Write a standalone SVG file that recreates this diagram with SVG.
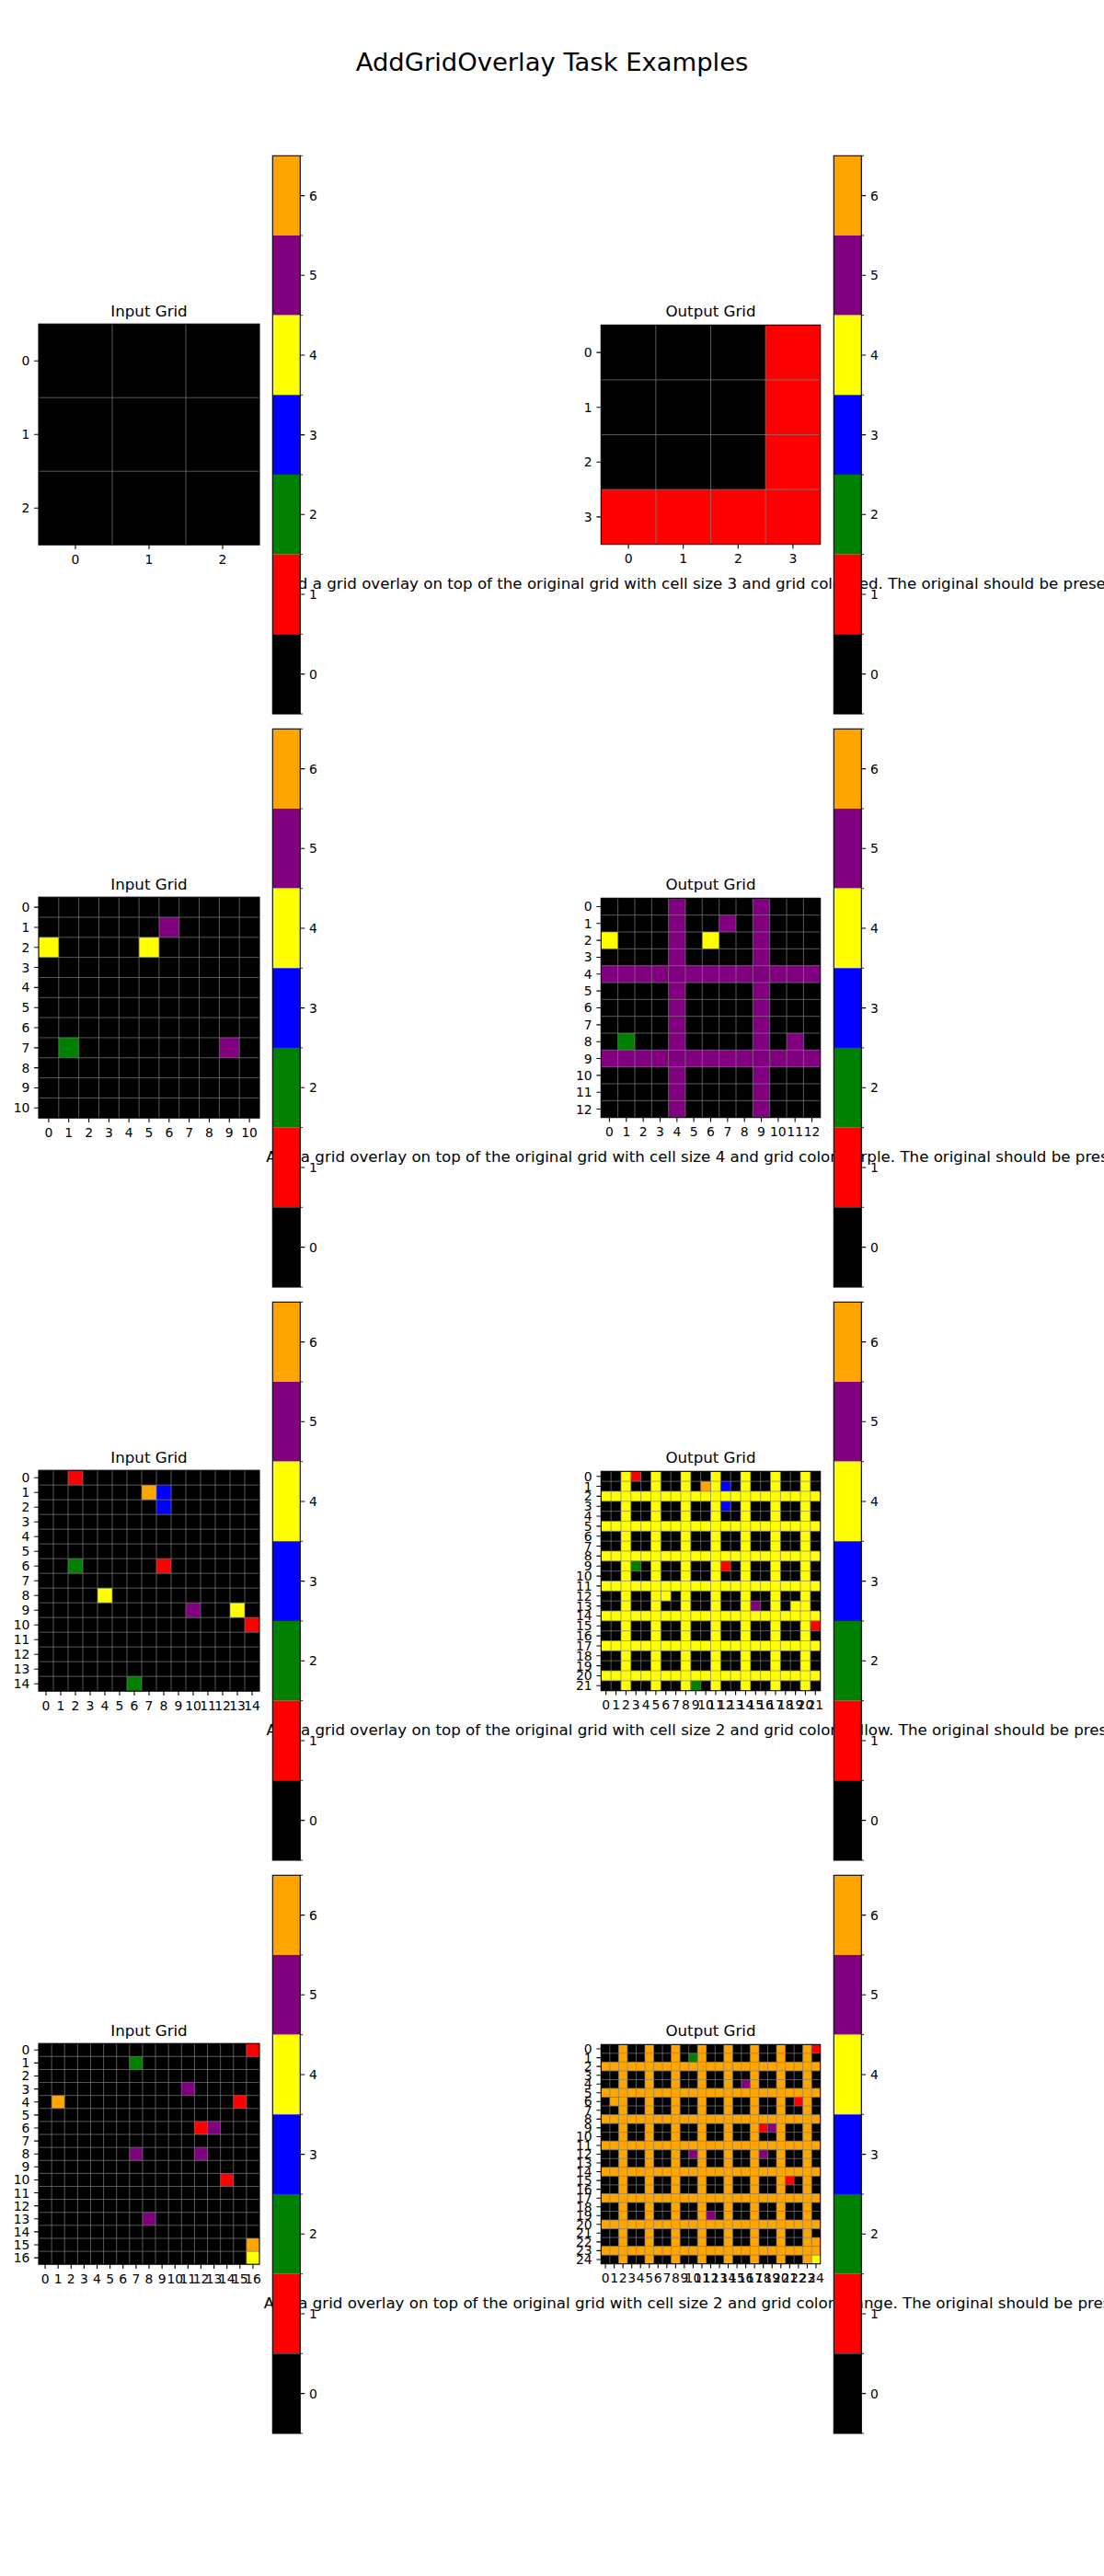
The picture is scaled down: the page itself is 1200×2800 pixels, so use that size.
<svg xmlns="http://www.w3.org/2000/svg" width="1200" height="2800" viewBox="0 0 1200 2800">
<style>
text{font-family:"DejaVu Sans","Liberation Sans",sans-serif;fill:#000}
.tl{font-size:13.9px}
.yl{text-anchor:end}
.xl{text-anchor:middle}
.at{font-size:16.67px;text-anchor:middle}
.desc{font-size:16.67px}
.sup{font-size:27.4px;text-anchor:middle}
.gl{fill:none;stroke:#808080;stroke-width:0.7;vector-effect:non-scaling-stroke}
.sp{fill:none;stroke:#000;stroke-width:1.1}
.tk{fill:none;stroke:#000;stroke-width:1.1}
.mt{fill:none;stroke:#000;stroke-width:0.8}
.k{fill:#000}.r{fill:#f00}.g{fill:#008000}.b{fill:#00f}.y{fill:#ff0}.p{fill:#800080}.o{fill:#ffa500}
</style>
<rect width="1200" height="2800" fill="#fff"/>
<text class="sup" x="600" y="77">AddGridOverlay Task Examples</text>

<g id="descriptions">
<text class="desc" x="302.2" y="639.5">Add a grid overlay on top of the original grid with cell size 3 and grid color red. The original should be prese</text>
<text class="desc" x="289.3" y="1262.5">Add a grid overlay on top of the original grid with cell size 4 and grid color purple. The original should be pres</text>
<text class="desc" x="289.4" y="1885.5">Add a grid overlay on top of the original grid with cell size 2 and grid color yellow. The original should be prese</text>
<text class="desc" x="286.7" y="2508.5">Add a grid overlay on top of the original grid with cell size 2 and grid color orange. The original should be pres</text>
</g>

<!-- ROW 1 -->
<g id="r1-input">
<text class="at" x="162" y="344">Input Grid</text>
<g transform="translate(42,352.2)">
<g transform="scale(80)">
<rect width="3" height="3" class="k"/>
<path class="gl" d="M1 0V3M2 0V3M0 1H3M0 2H3"/>
</g>
<rect class="sp" width="240" height="240"/>
<path class="tk" d="M-4.9 40h4.9M-4.9 120h4.9M-4.9 200h4.9M40 240v4.9M120 240v4.9M200 240v4.9"/>
<text class="tl yl" x="-9.7" y="45">0</text><text class="tl yl" x="-9.7" y="125">1</text><text class="tl yl" x="-9.7" y="205">2</text>
<text class="tl xl" x="40" y="260.6">0</text><text class="tl xl" x="120" y="260.6">1</text><text class="tl xl" x="200" y="260.6">2</text>
</g>
</g>
<g id="r1-output">
<text class="at" x="772.5" y="344">Output Grid</text>
<g transform="translate(653.3,353.3)">
<g transform="scale(59.6)">
<rect width="4" height="4" class="k"/>
<rect x="3" width="1" height="4" class="r"/>
<rect y="3" width="4" height="1" class="r"/>
<path class="gl" d="M1 0V4M2 0V4M3 0V4M0 1H4M0 2H4M0 3H4"/>
</g>
<rect class="sp" width="238.4" height="238.4"/>
<path class="tk" d="M-4.9 29.8h4.9M-4.9 89.4h4.9M-4.9 149h4.9M-4.9 208.6h4.9M29.8 238.4v4.9M89.4 238.4v4.9M149 238.4v4.9M208.6 238.4v4.9"/>
<text class="tl yl" x="-9.7" y="34.8">0</text><text class="tl yl" x="-9.7" y="94.4">1</text><text class="tl yl" x="-9.7" y="154">2</text><text class="tl yl" x="-9.7" y="213.6">3</text>
<text class="tl xl" x="29.8" y="259">0</text><text class="tl xl" x="89.4" y="259">1</text><text class="tl xl" x="149" y="259">2</text><text class="tl xl" x="208.6" y="259">3</text>
</g>
</g>

<!-- ROW 2 -->
<g id="r2-input">
<text class="at" x="162" y="967">Input Grid</text>
<g transform="translate(42,975.2)">
<g transform="scale(21.818)">
<rect width="11" height="11" class="k"/>
<rect x="6" y="1" width="1" height="1" class="p"/>
<rect x="0" y="2" width="1" height="1" class="y"/>
<rect x="5" y="2" width="1" height="1" class="y"/>
<rect x="1" y="7" width="1" height="1" class="g"/>
<rect x="9" y="7" width="1" height="1" class="p"/>
<path class="gl" d="M1 0V11M2 0V11M3 0V11M4 0V11M5 0V11M6 0V11M7 0V11M8 0V11M9 0V11M10 0V11M0 1H11M0 2H11M0 3H11M0 4H11M0 5H11M0 6H11M0 7H11M0 8H11M0 9H11M0 10H11"/>
</g>
<rect class="sp" width="240" height="240"/>
<path class="tk" d="M-4.9 10.91h4.9M-4.9 32.73h4.9M-4.9 54.55h4.9M-4.9 76.36h4.9M-4.9 98.18h4.9M-4.9 120h4.9M-4.9 141.82h4.9M-4.9 163.64h4.9M-4.9 185.45h4.9M-4.9 207.27h4.9M-4.9 229.09h4.9M10.91 240v4.9M32.73 240v4.9M54.55 240v4.9M76.36 240v4.9M98.18 240v4.9M120 240v4.9M141.82 240v4.9M163.64 240v4.9M185.45 240v4.9M207.27 240v4.9M229.09 240v4.9"/>
<text class="tl yl" x="-9.7" y="15.91">0</text><text class="tl yl" x="-9.7" y="37.73">1</text><text class="tl yl" x="-9.7" y="59.55">2</text><text class="tl yl" x="-9.7" y="81.36">3</text><text class="tl yl" x="-9.7" y="103.18">4</text><text class="tl yl" x="-9.7" y="125">5</text><text class="tl yl" x="-9.7" y="146.82">6</text><text class="tl yl" x="-9.7" y="168.64">7</text><text class="tl yl" x="-9.7" y="190.45">8</text><text class="tl yl" x="-9.7" y="212.27">9</text><text class="tl yl" x="-9.7" y="234.09">10</text>
<text class="tl xl" x="10.91" y="260.6">0</text><text class="tl xl" x="32.73" y="260.6">1</text><text class="tl xl" x="54.55" y="260.6">2</text><text class="tl xl" x="76.36" y="260.6">3</text><text class="tl xl" x="98.18" y="260.6">4</text><text class="tl xl" x="120" y="260.6">5</text><text class="tl xl" x="141.82" y="260.6">6</text><text class="tl xl" x="163.64" y="260.6">7</text><text class="tl xl" x="185.45" y="260.6">8</text><text class="tl xl" x="207.27" y="260.6">9</text><text class="tl xl" x="229.09" y="260.6">10</text>
</g>
</g>
<g id="r2-output">
<text class="at" x="772.5" y="967">Output Grid</text>
<g transform="translate(653.3,976.3)">
<g transform="scale(18.338)">
<rect width="13" height="13" class="k"/>
<rect x="4" width="1" height="13" class="p"/>
<rect x="9" width="1" height="13" class="p"/>
<rect y="4" width="13" height="1" class="p"/>
<rect y="9" width="13" height="1" class="p"/>
<rect x="7" y="1" width="1" height="1" class="p"/>
<rect x="0" y="2" width="1" height="1" class="y"/>
<rect x="6" y="2" width="1" height="1" class="y"/>
<rect x="1" y="8" width="1" height="1" class="g"/>
<rect x="11" y="8" width="1" height="1" class="p"/>
<path class="gl" d="M1 0V13M2 0V13M3 0V13M4 0V13M5 0V13M6 0V13M7 0V13M8 0V13M9 0V13M10 0V13M11 0V13M12 0V13M0 1H13M0 2H13M0 3H13M0 4H13M0 5H13M0 6H13M0 7H13M0 8H13M0 9H13M0 10H13M0 11H13M0 12H13"/>
</g>
<rect class="sp" width="238.4" height="238.4"/>
<path class="tk" d="M-4.9 9.17h4.9M-4.9 27.51h4.9M-4.9 45.85h4.9M-4.9 64.19h4.9M-4.9 82.52h4.9M-4.9 100.86h4.9M-4.9 119.2h4.9M-4.9 137.54h4.9M-4.9 155.88h4.9M-4.9 174.22h4.9M-4.9 192.55h4.9M-4.9 210.89h4.9M-4.9 229.23h4.9M9.17 238.4v4.9M27.51 238.4v4.9M45.85 238.4v4.9M64.19 238.4v4.9M82.52 238.4v4.9M100.86 238.4v4.9M119.2 238.4v4.9M137.54 238.4v4.9M155.88 238.4v4.9M174.22 238.4v4.9M192.55 238.4v4.9M210.89 238.4v4.9M229.23 238.4v4.9"/>
<text class="tl yl" x="-9.7" y="14.17">0</text><text class="tl yl" x="-9.7" y="32.51">1</text><text class="tl yl" x="-9.7" y="50.85">2</text><text class="tl yl" x="-9.7" y="69.19">3</text><text class="tl yl" x="-9.7" y="87.52">4</text><text class="tl yl" x="-9.7" y="105.86">5</text><text class="tl yl" x="-9.7" y="124.2">6</text><text class="tl yl" x="-9.7" y="142.54">7</text><text class="tl yl" x="-9.7" y="160.88">8</text><text class="tl yl" x="-9.7" y="179.22">9</text><text class="tl yl" x="-9.7" y="197.55">10</text><text class="tl yl" x="-9.7" y="215.89">11</text><text class="tl yl" x="-9.7" y="234.23">12</text>
<text class="tl xl" x="9.17" y="259">0</text><text class="tl xl" x="27.51" y="259">1</text><text class="tl xl" x="45.85" y="259">2</text><text class="tl xl" x="64.19" y="259">3</text><text class="tl xl" x="82.52" y="259">4</text><text class="tl xl" x="100.86" y="259">5</text><text class="tl xl" x="119.2" y="259">6</text><text class="tl xl" x="137.54" y="259">7</text><text class="tl xl" x="155.88" y="259">8</text><text class="tl xl" x="174.22" y="259">9</text><text class="tl xl" x="192.55" y="259">10</text><text class="tl xl" x="210.89" y="259">11</text><text class="tl xl" x="229.23" y="259">12</text>
</g>
</g>

<!-- ROW 3 -->
<g id="r3-input">
<text class="at" x="162" y="1590">Input Grid</text>
<g transform="translate(42,1598.2)">
<g transform="scale(16)">
<rect width="15" height="15" class="k"/>
<rect x="2" y="0" width="1" height="1" class="r"/>
<rect x="7" y="1" width="1" height="1" class="o"/>
<rect x="8" y="1" width="1" height="1" class="b"/>
<rect x="8" y="2" width="1" height="1" class="b"/>
<rect x="2" y="6" width="1" height="1" class="g"/>
<rect x="8" y="6" width="1" height="1" class="r"/>
<rect x="4" y="8" width="1" height="1" class="y"/>
<rect x="10" y="9" width="1" height="1" class="p"/>
<rect x="13" y="9" width="1" height="1" class="y"/>
<rect x="14" y="10" width="1" height="1" class="r"/>
<rect x="6" y="14" width="1" height="1" class="g"/>
<path class="gl" d="M1 0V15M2 0V15M3 0V15M4 0V15M5 0V15M6 0V15M7 0V15M8 0V15M9 0V15M10 0V15M11 0V15M12 0V15M13 0V15M14 0V15M0 1H15M0 2H15M0 3H15M0 4H15M0 5H15M0 6H15M0 7H15M0 8H15M0 9H15M0 10H15M0 11H15M0 12H15M0 13H15M0 14H15"/>
</g>
<rect class="sp" width="240" height="240"/>
<path class="tk" d="M-4.9 8h4.9M-4.9 24h4.9M-4.9 40h4.9M-4.9 56h4.9M-4.9 72h4.9M-4.9 88h4.9M-4.9 104h4.9M-4.9 120h4.9M-4.9 136h4.9M-4.9 152h4.9M-4.9 168h4.9M-4.9 184h4.9M-4.9 200h4.9M-4.9 216h4.9M-4.9 232h4.9M8 240v4.9M24 240v4.9M40 240v4.9M56 240v4.9M72 240v4.9M88 240v4.9M104 240v4.9M120 240v4.9M136 240v4.9M152 240v4.9M168 240v4.9M184 240v4.9M200 240v4.9M216 240v4.9M232 240v4.9"/>
<text class="tl yl" x="-9.7" y="13">0</text><text class="tl yl" x="-9.7" y="29">1</text><text class="tl yl" x="-9.7" y="45">2</text><text class="tl yl" x="-9.7" y="61">3</text><text class="tl yl" x="-9.7" y="77">4</text><text class="tl yl" x="-9.7" y="93">5</text><text class="tl yl" x="-9.7" y="109">6</text><text class="tl yl" x="-9.7" y="125">7</text><text class="tl yl" x="-9.7" y="141">8</text><text class="tl yl" x="-9.7" y="157">9</text><text class="tl yl" x="-9.7" y="173">10</text><text class="tl yl" x="-9.7" y="189">11</text><text class="tl yl" x="-9.7" y="205">12</text><text class="tl yl" x="-9.7" y="221">13</text><text class="tl yl" x="-9.7" y="237">14</text>
<text class="tl xl" x="8" y="260.6">0</text><text class="tl xl" x="24" y="260.6">1</text><text class="tl xl" x="40" y="260.6">2</text><text class="tl xl" x="56" y="260.6">3</text><text class="tl xl" x="72" y="260.6">4</text><text class="tl xl" x="88" y="260.6">5</text><text class="tl xl" x="104" y="260.6">6</text><text class="tl xl" x="120" y="260.6">7</text><text class="tl xl" x="136" y="260.6">8</text><text class="tl xl" x="152" y="260.6">9</text><text class="tl xl" x="168" y="260.6">10</text><text class="tl xl" x="184" y="260.6">11</text><text class="tl xl" x="200" y="260.6">12</text><text class="tl xl" x="216" y="260.6">13</text><text class="tl xl" x="232" y="260.6">14</text>
</g>
</g>
<g id="r3-output">
<text class="at" x="772.5" y="1590">Output Grid</text>
<g transform="translate(653.3,1599.3)">
<g transform="scale(10.836)">
<rect width="22" height="22" class="k"/>
<rect x="2" width="1" height="22" class="y"/><rect x="5" width="1" height="22" class="y"/><rect x="8" width="1" height="22" class="y"/><rect x="11" width="1" height="22" class="y"/><rect x="14" width="1" height="22" class="y"/><rect x="17" width="1" height="22" class="y"/><rect x="20" width="1" height="22" class="y"/>
<rect y="2" width="22" height="1" class="y"/><rect y="5" width="22" height="1" class="y"/><rect y="8" width="22" height="1" class="y"/><rect y="11" width="22" height="1" class="y"/><rect y="14" width="22" height="1" class="y"/><rect y="17" width="22" height="1" class="y"/><rect y="20" width="22" height="1" class="y"/>
<rect x="3" y="0" width="1" height="1" class="r"/>
<rect x="10" y="1" width="1" height="1" class="o"/>
<rect x="12" y="1" width="1" height="1" class="b"/>
<rect x="12" y="3" width="1" height="1" class="b"/>
<rect x="3" y="9" width="1" height="1" class="g"/>
<rect x="12" y="9" width="1" height="1" class="r"/>
<rect x="6" y="12" width="1" height="1" class="y"/>
<rect x="15" y="13" width="1" height="1" class="p"/>
<rect x="19" y="13" width="1" height="1" class="y"/>
<rect x="21" y="15" width="1" height="1" class="r"/>
<rect x="9" y="21" width="1" height="1" class="g"/>
<path class="gl" d="M1 0V22M2 0V22M3 0V22M4 0V22M5 0V22M6 0V22M7 0V22M8 0V22M9 0V22M10 0V22M11 0V22M12 0V22M13 0V22M14 0V22M15 0V22M16 0V22M17 0V22M18 0V22M19 0V22M20 0V22M21 0V22M0 1H22M0 2H22M0 3H22M0 4H22M0 5H22M0 6H22M0 7H22M0 8H22M0 9H22M0 10H22M0 11H22M0 12H22M0 13H22M0 14H22M0 15H22M0 16H22M0 17H22M0 18H22M0 19H22M0 20H22M0 21H22"/>
</g>
<rect class="sp" width="238.4" height="238.4"/>
<path class="tk" d="M-4.9 5.42h4.9M-4.9 16.25h4.9M-4.9 27.09h4.9M-4.9 37.93h4.9M-4.9 48.76h4.9M-4.9 59.6h4.9M-4.9 70.44h4.9M-4.9 81.27h4.9M-4.9 92.11h4.9M-4.9 102.95h4.9M-4.9 113.78h4.9M-4.9 124.62h4.9M-4.9 135.45h4.9M-4.9 146.29h4.9M-4.9 157.13h4.9M-4.9 167.96h4.9M-4.9 178.8h4.9M-4.9 189.64h4.9M-4.9 200.47h4.9M-4.9 211.31h4.9M-4.9 222.15h4.9M-4.9 232.98h4.9M5.42 238.4v4.9M16.25 238.4v4.9M27.09 238.4v4.9M37.93 238.4v4.9M48.76 238.4v4.9M59.6 238.4v4.9M70.44 238.4v4.9M81.27 238.4v4.9M92.11 238.4v4.9M102.95 238.4v4.9M113.78 238.4v4.9M124.62 238.4v4.9M135.45 238.4v4.9M146.29 238.4v4.9M157.13 238.4v4.9M167.96 238.4v4.9M178.8 238.4v4.9M189.64 238.4v4.9M200.47 238.4v4.9M211.31 238.4v4.9M222.15 238.4v4.9M232.98 238.4v4.9"/>
<text class="tl yl" x="-9.7" y="10.42">0</text><text class="tl yl" x="-9.7" y="21.25">1</text><text class="tl yl" x="-9.7" y="32.09">2</text><text class="tl yl" x="-9.7" y="42.93">3</text><text class="tl yl" x="-9.7" y="53.76">4</text><text class="tl yl" x="-9.7" y="64.6">5</text><text class="tl yl" x="-9.7" y="75.44">6</text><text class="tl yl" x="-9.7" y="86.27">7</text><text class="tl yl" x="-9.7" y="97.11">8</text><text class="tl yl" x="-9.7" y="107.95">9</text><text class="tl yl" x="-9.7" y="118.78">10</text><text class="tl yl" x="-9.7" y="129.62">11</text><text class="tl yl" x="-9.7" y="140.45">12</text><text class="tl yl" x="-9.7" y="151.29">13</text><text class="tl yl" x="-9.7" y="162.13">14</text><text class="tl yl" x="-9.7" y="172.96">15</text><text class="tl yl" x="-9.7" y="183.8">16</text><text class="tl yl" x="-9.7" y="194.64">17</text><text class="tl yl" x="-9.7" y="205.47">18</text><text class="tl yl" x="-9.7" y="216.31">19</text><text class="tl yl" x="-9.7" y="227.15">20</text><text class="tl yl" x="-9.7" y="237.98">21</text>
<text class="tl xl" x="5.42" y="259">0</text><text class="tl xl" x="16.25" y="259">1</text><text class="tl xl" x="27.09" y="259">2</text><text class="tl xl" x="37.93" y="259">3</text><text class="tl xl" x="48.76" y="259">4</text><text class="tl xl" x="59.6" y="259">5</text><text class="tl xl" x="70.44" y="259">6</text><text class="tl xl" x="81.27" y="259">7</text><text class="tl xl" x="92.11" y="259">8</text><text class="tl xl" x="102.95" y="259">9</text><text class="tl xl" x="113.78" y="259">10</text><text class="tl xl" x="124.62" y="259">11</text><text class="tl xl" x="135.45" y="259">12</text><text class="tl xl" x="146.29" y="259">13</text><text class="tl xl" x="157.13" y="259">14</text><text class="tl xl" x="167.96" y="259">15</text><text class="tl xl" x="178.8" y="259">16</text><text class="tl xl" x="189.64" y="259">17</text><text class="tl xl" x="200.47" y="259">18</text><text class="tl xl" x="211.31" y="259">19</text><text class="tl xl" x="222.15" y="259">20</text><text class="tl xl" x="232.98" y="259">21</text>
</g>
</g>

<!-- ROW 4 -->
<g id="r4-input">
<text class="at" x="162" y="2213">Input Grid</text>
<g transform="translate(42,2221.2)">
<g transform="scale(14.118)">
<rect width="17" height="17" class="k"/>
<rect x="16" y="0" width="1" height="1" class="r"/>
<rect x="7" y="1" width="1" height="1" class="g"/>
<rect x="11" y="3" width="1" height="1" class="p"/>
<rect x="1" y="4" width="1" height="1" class="o"/>
<rect x="15" y="4" width="1" height="1" class="r"/>
<rect x="12" y="6" width="1" height="1" class="r"/>
<rect x="13" y="6" width="1" height="1" class="p"/>
<rect x="7" y="8" width="1" height="1" class="p"/>
<rect x="12" y="8" width="1" height="1" class="p"/>
<rect x="14" y="10" width="1" height="1" class="r"/>
<rect x="8" y="13" width="1" height="1" class="p"/>
<rect x="16" y="15" width="1" height="1" class="o"/>
<rect x="16" y="16" width="1" height="1" class="y"/>
<path class="gl" d="M1 0V17M2 0V17M3 0V17M4 0V17M5 0V17M6 0V17M7 0V17M8 0V17M9 0V17M10 0V17M11 0V17M12 0V17M13 0V17M14 0V17M15 0V17M16 0V17M0 1H17M0 2H17M0 3H17M0 4H17M0 5H17M0 6H17M0 7H17M0 8H17M0 9H17M0 10H17M0 11H17M0 12H17M0 13H17M0 14H17M0 15H17M0 16H17"/>
</g>
<rect class="sp" width="240" height="240"/>
<path class="tk" d="M-4.9 7.06h4.9M-4.9 21.18h4.9M-4.9 35.29h4.9M-4.9 49.41h4.9M-4.9 63.53h4.9M-4.9 77.65h4.9M-4.9 91.76h4.9M-4.9 105.88h4.9M-4.9 120h4.9M-4.9 134.12h4.9M-4.9 148.24h4.9M-4.9 162.35h4.9M-4.9 176.47h4.9M-4.9 190.59h4.9M-4.9 204.71h4.9M-4.9 218.82h4.9M-4.9 232.94h4.9M7.06 240v4.9M21.18 240v4.9M35.29 240v4.9M49.41 240v4.9M63.53 240v4.9M77.65 240v4.9M91.76 240v4.9M105.88 240v4.9M120 240v4.9M134.12 240v4.9M148.24 240v4.9M162.35 240v4.9M176.47 240v4.9M190.59 240v4.9M204.71 240v4.9M218.82 240v4.9M232.94 240v4.9"/>
<text class="tl yl" x="-9.7" y="12.06">0</text><text class="tl yl" x="-9.7" y="26.18">1</text><text class="tl yl" x="-9.7" y="40.29">2</text><text class="tl yl" x="-9.7" y="54.41">3</text><text class="tl yl" x="-9.7" y="68.53">4</text><text class="tl yl" x="-9.7" y="82.65">5</text><text class="tl yl" x="-9.7" y="96.76">6</text><text class="tl yl" x="-9.7" y="110.88">7</text><text class="tl yl" x="-9.7" y="125">8</text><text class="tl yl" x="-9.7" y="139.12">9</text><text class="tl yl" x="-9.7" y="153.24">10</text><text class="tl yl" x="-9.7" y="167.35">11</text><text class="tl yl" x="-9.7" y="181.47">12</text><text class="tl yl" x="-9.7" y="195.59">13</text><text class="tl yl" x="-9.7" y="209.71">14</text><text class="tl yl" x="-9.7" y="223.82">15</text><text class="tl yl" x="-9.7" y="237.94">16</text>
<text class="tl xl" x="7.06" y="260.6">0</text><text class="tl xl" x="21.18" y="260.6">1</text><text class="tl xl" x="35.29" y="260.6">2</text><text class="tl xl" x="49.41" y="260.6">3</text><text class="tl xl" x="63.53" y="260.6">4</text><text class="tl xl" x="77.65" y="260.6">5</text><text class="tl xl" x="91.76" y="260.6">6</text><text class="tl xl" x="105.88" y="260.6">7</text><text class="tl xl" x="120" y="260.6">8</text><text class="tl xl" x="134.12" y="260.6">9</text><text class="tl xl" x="148.24" y="260.6">10</text><text class="tl xl" x="162.35" y="260.6">11</text><text class="tl xl" x="176.47" y="260.6">12</text><text class="tl xl" x="190.59" y="260.6">13</text><text class="tl xl" x="204.71" y="260.6">14</text><text class="tl xl" x="218.82" y="260.6">15</text><text class="tl xl" x="232.94" y="260.6">16</text>
</g>
</g>
<g id="r4-output">
<text class="at" x="772.5" y="2213">Output Grid</text>
<g transform="translate(653.3,2222.3)">
<g transform="scale(9.536)">
<rect width="25" height="25" class="k"/>
<rect x="2" width="1" height="25" class="o"/><rect x="5" width="1" height="25" class="o"/><rect x="8" width="1" height="25" class="o"/><rect x="11" width="1" height="25" class="o"/><rect x="14" width="1" height="25" class="o"/><rect x="17" width="1" height="25" class="o"/><rect x="20" width="1" height="25" class="o"/><rect x="23" width="1" height="25" class="o"/>
<rect y="2" width="25" height="1" class="o"/><rect y="5" width="25" height="1" class="o"/><rect y="8" width="25" height="1" class="o"/><rect y="11" width="25" height="1" class="o"/><rect y="14" width="25" height="1" class="o"/><rect y="17" width="25" height="1" class="o"/><rect y="20" width="25" height="1" class="o"/><rect y="23" width="25" height="1" class="o"/>
<rect x="24" y="0" width="1" height="1" class="r"/>
<rect x="10" y="1" width="1" height="1" class="g"/>
<rect x="16" y="4" width="1" height="1" class="p"/>
<rect x="1" y="6" width="1" height="1" class="o"/>
<rect x="22" y="6" width="1" height="1" class="r"/>
<rect x="18" y="9" width="1" height="1" class="r"/>
<rect x="19" y="9" width="1" height="1" class="p"/>
<rect x="10" y="12" width="1" height="1" class="p"/>
<rect x="18" y="12" width="1" height="1" class="p"/>
<rect x="21" y="15" width="1" height="1" class="r"/>
<rect x="12" y="19" width="1" height="1" class="p"/>
<rect x="24" y="22" width="1" height="1" class="o"/>
<rect x="24" y="24" width="1" height="1" class="y"/>
<path class="gl" d="M1 0V25M2 0V25M3 0V25M4 0V25M5 0V25M6 0V25M7 0V25M8 0V25M9 0V25M10 0V25M11 0V25M12 0V25M13 0V25M14 0V25M15 0V25M16 0V25M17 0V25M18 0V25M19 0V25M20 0V25M21 0V25M22 0V25M23 0V25M24 0V25M0 1H25M0 2H25M0 3H25M0 4H25M0 5H25M0 6H25M0 7H25M0 8H25M0 9H25M0 10H25M0 11H25M0 12H25M0 13H25M0 14H25M0 15H25M0 16H25M0 17H25M0 18H25M0 19H25M0 20H25M0 21H25M0 22H25M0 23H25M0 24H25"/>
</g>
<rect class="sp" width="238.4" height="238.4"/>
<path class="tk" d="M-4.9 4.77h4.9M-4.9 14.3h4.9M-4.9 23.84h4.9M-4.9 33.38h4.9M-4.9 42.91h4.9M-4.9 52.45h4.9M-4.9 61.98h4.9M-4.9 71.52h4.9M-4.9 81.06h4.9M-4.9 90.59h4.9M-4.9 100.13h4.9M-4.9 109.66h4.9M-4.9 119.2h4.9M-4.9 128.74h4.9M-4.9 138.27h4.9M-4.9 147.81h4.9M-4.9 157.34h4.9M-4.9 166.88h4.9M-4.9 176.42h4.9M-4.9 185.95h4.9M-4.9 195.49h4.9M-4.9 205.02h4.9M-4.9 214.56h4.9M-4.9 224.1h4.9M-4.9 233.63h4.9M4.77 238.4v4.9M14.3 238.4v4.9M23.84 238.4v4.9M33.38 238.4v4.9M42.91 238.4v4.9M52.45 238.4v4.9M61.98 238.4v4.9M71.52 238.4v4.9M81.06 238.4v4.9M90.59 238.4v4.9M100.13 238.4v4.9M109.66 238.4v4.9M119.2 238.4v4.9M128.74 238.4v4.9M138.27 238.4v4.9M147.81 238.4v4.9M157.34 238.4v4.9M166.88 238.4v4.9M176.42 238.4v4.9M185.95 238.4v4.9M195.49 238.4v4.9M205.02 238.4v4.9M214.56 238.4v4.9M224.1 238.4v4.9M233.63 238.4v4.9"/>
<text class="tl yl" x="-9.7" y="9.77">0</text><text class="tl yl" x="-9.7" y="19.3">1</text><text class="tl yl" x="-9.7" y="28.84">2</text><text class="tl yl" x="-9.7" y="38.38">3</text><text class="tl yl" x="-9.7" y="47.91">4</text><text class="tl yl" x="-9.7" y="57.45">5</text><text class="tl yl" x="-9.7" y="66.98">6</text><text class="tl yl" x="-9.7" y="76.52">7</text><text class="tl yl" x="-9.7" y="86.06">8</text><text class="tl yl" x="-9.7" y="95.59">9</text><text class="tl yl" x="-9.7" y="105.13">10</text><text class="tl yl" x="-9.7" y="114.66">11</text><text class="tl yl" x="-9.7" y="124.2">12</text><text class="tl yl" x="-9.7" y="133.74">13</text><text class="tl yl" x="-9.7" y="143.27">14</text><text class="tl yl" x="-9.7" y="152.81">15</text><text class="tl yl" x="-9.7" y="162.34">16</text><text class="tl yl" x="-9.7" y="171.88">17</text><text class="tl yl" x="-9.7" y="181.42">18</text><text class="tl yl" x="-9.7" y="190.95">19</text><text class="tl yl" x="-9.7" y="200.49">20</text><text class="tl yl" x="-9.7" y="210.02">21</text><text class="tl yl" x="-9.7" y="219.56">22</text><text class="tl yl" x="-9.7" y="229.1">23</text><text class="tl yl" x="-9.7" y="238.63">24</text>
<text class="tl xl" x="4.77" y="259">0</text><text class="tl xl" x="14.3" y="259">1</text><text class="tl xl" x="23.84" y="259">2</text><text class="tl xl" x="33.38" y="259">3</text><text class="tl xl" x="42.91" y="259">4</text><text class="tl xl" x="52.45" y="259">5</text><text class="tl xl" x="61.98" y="259">6</text><text class="tl xl" x="71.52" y="259">7</text><text class="tl xl" x="81.06" y="259">8</text><text class="tl xl" x="90.59" y="259">9</text><text class="tl xl" x="100.13" y="259">10</text><text class="tl xl" x="109.66" y="259">11</text><text class="tl xl" x="119.2" y="259">12</text><text class="tl xl" x="128.74" y="259">13</text><text class="tl xl" x="138.27" y="259">14</text><text class="tl xl" x="147.81" y="259">15</text><text class="tl xl" x="157.34" y="259">16</text><text class="tl xl" x="166.88" y="259">17</text><text class="tl xl" x="176.42" y="259">18</text><text class="tl xl" x="185.95" y="259">19</text><text class="tl xl" x="195.49" y="259">20</text><text class="tl xl" x="205.02" y="259">21</text><text class="tl xl" x="214.56" y="259">22</text><text class="tl xl" x="224.1" y="259">23</text><text class="tl xl" x="233.63" y="259">24</text>
</g>
</g>

<!-- COLORBARS -->
<g id="colorbars">
<g id="cb1a" transform="translate(296.3,169.3)">
<rect y="0" width="30" height="86.67" class="o"/><rect y="86.67" width="30" height="86.67" class="p"/><rect y="173.33" width="30" height="86.67" class="y"/><rect y="260" width="30" height="86.67" class="b"/><rect y="346.67" width="30" height="86.67" class="g"/><rect y="433.33" width="30" height="86.67" class="r"/><rect y="520" width="30" height="86.67" class="k"/>
<rect class="sp" width="30" height="606.67"/>
<path class="tk" d="M30 43.33h4.9M30 130h4.9M30 216.67h4.9M30 303.33h4.9M30 390h4.9M30 476.67h4.9M30 563.33h4.9"/>
<path class="mt" d="M30 0h2.8M30 86.67h2.8M30 173.33h2.8M30 260h2.8M30 346.67h2.8M30 433.33h2.8M30 520h2.8M30 606.67h2.8"/>
<text class="tl" x="39.7" y="48.33">6</text><text class="tl" x="39.7" y="135">5</text><text class="tl" x="39.7" y="221.67">4</text><text class="tl" x="39.7" y="308.33">3</text><text class="tl" x="39.7" y="395">2</text><text class="tl" x="39.7" y="481.67">1</text><text class="tl" x="39.7" y="568.33">0</text>
</g>
<g id="cb1b" transform="translate(906.3,169.3)">
<rect y="0" width="30" height="86.67" class="o"/><rect y="86.67" width="30" height="86.67" class="p"/><rect y="173.33" width="30" height="86.67" class="y"/><rect y="260" width="30" height="86.67" class="b"/><rect y="346.67" width="30" height="86.67" class="g"/><rect y="433.33" width="30" height="86.67" class="r"/><rect y="520" width="30" height="86.67" class="k"/>
<rect class="sp" width="30" height="606.67"/>
<path class="tk" d="M30 43.33h4.9M30 130h4.9M30 216.67h4.9M30 303.33h4.9M30 390h4.9M30 476.67h4.9M30 563.33h4.9"/>
<path class="mt" d="M30 0h2.8M30 86.67h2.8M30 173.33h2.8M30 260h2.8M30 346.67h2.8M30 433.33h2.8M30 520h2.8M30 606.67h2.8"/>
<text class="tl" x="39.7" y="48.33">6</text><text class="tl" x="39.7" y="135">5</text><text class="tl" x="39.7" y="221.67">4</text><text class="tl" x="39.7" y="308.33">3</text><text class="tl" x="39.7" y="395">2</text><text class="tl" x="39.7" y="481.67">1</text><text class="tl" x="39.7" y="568.33">0</text>
</g>
<g id="cb2a" transform="translate(296.3,792.3)">
<rect y="0" width="30" height="86.67" class="o"/><rect y="86.67" width="30" height="86.67" class="p"/><rect y="173.33" width="30" height="86.67" class="y"/><rect y="260" width="30" height="86.67" class="b"/><rect y="346.67" width="30" height="86.67" class="g"/><rect y="433.33" width="30" height="86.67" class="r"/><rect y="520" width="30" height="86.67" class="k"/>
<rect class="sp" width="30" height="606.67"/>
<path class="tk" d="M30 43.33h4.9M30 130h4.9M30 216.67h4.9M30 303.33h4.9M30 390h4.9M30 476.67h4.9M30 563.33h4.9"/>
<path class="mt" d="M30 0h2.8M30 86.67h2.8M30 173.33h2.8M30 260h2.8M30 346.67h2.8M30 433.33h2.8M30 520h2.8M30 606.67h2.8"/>
<text class="tl" x="39.7" y="48.33">6</text><text class="tl" x="39.7" y="135">5</text><text class="tl" x="39.7" y="221.67">4</text><text class="tl" x="39.7" y="308.33">3</text><text class="tl" x="39.7" y="395">2</text><text class="tl" x="39.7" y="481.67">1</text><text class="tl" x="39.7" y="568.33">0</text>
</g>
<g id="cb2b" transform="translate(906.3,792.3)">
<rect y="0" width="30" height="86.67" class="o"/><rect y="86.67" width="30" height="86.67" class="p"/><rect y="173.33" width="30" height="86.67" class="y"/><rect y="260" width="30" height="86.67" class="b"/><rect y="346.67" width="30" height="86.67" class="g"/><rect y="433.33" width="30" height="86.67" class="r"/><rect y="520" width="30" height="86.67" class="k"/>
<rect class="sp" width="30" height="606.67"/>
<path class="tk" d="M30 43.33h4.9M30 130h4.9M30 216.67h4.9M30 303.33h4.9M30 390h4.9M30 476.67h4.9M30 563.33h4.9"/>
<path class="mt" d="M30 0h2.8M30 86.67h2.8M30 173.33h2.8M30 260h2.8M30 346.67h2.8M30 433.33h2.8M30 520h2.8M30 606.67h2.8"/>
<text class="tl" x="39.7" y="48.33">6</text><text class="tl" x="39.7" y="135">5</text><text class="tl" x="39.7" y="221.67">4</text><text class="tl" x="39.7" y="308.33">3</text><text class="tl" x="39.7" y="395">2</text><text class="tl" x="39.7" y="481.67">1</text><text class="tl" x="39.7" y="568.33">0</text>
</g>
<g id="cb3a" transform="translate(296.3,1415.3)">
<rect y="0" width="30" height="86.67" class="o"/><rect y="86.67" width="30" height="86.67" class="p"/><rect y="173.33" width="30" height="86.67" class="y"/><rect y="260" width="30" height="86.67" class="b"/><rect y="346.67" width="30" height="86.67" class="g"/><rect y="433.33" width="30" height="86.67" class="r"/><rect y="520" width="30" height="86.67" class="k"/>
<rect class="sp" width="30" height="606.67"/>
<path class="tk" d="M30 43.33h4.9M30 130h4.9M30 216.67h4.9M30 303.33h4.9M30 390h4.9M30 476.67h4.9M30 563.33h4.9"/>
<path class="mt" d="M30 0h2.8M30 86.67h2.8M30 173.33h2.8M30 260h2.8M30 346.67h2.8M30 433.33h2.8M30 520h2.8M30 606.67h2.8"/>
<text class="tl" x="39.7" y="48.33">6</text><text class="tl" x="39.7" y="135">5</text><text class="tl" x="39.7" y="221.67">4</text><text class="tl" x="39.7" y="308.33">3</text><text class="tl" x="39.7" y="395">2</text><text class="tl" x="39.7" y="481.67">1</text><text class="tl" x="39.7" y="568.33">0</text>
</g>
<g id="cb3b" transform="translate(906.3,1415.3)">
<rect y="0" width="30" height="86.67" class="o"/><rect y="86.67" width="30" height="86.67" class="p"/><rect y="173.33" width="30" height="86.67" class="y"/><rect y="260" width="30" height="86.67" class="b"/><rect y="346.67" width="30" height="86.67" class="g"/><rect y="433.33" width="30" height="86.67" class="r"/><rect y="520" width="30" height="86.67" class="k"/>
<rect class="sp" width="30" height="606.67"/>
<path class="tk" d="M30 43.33h4.9M30 130h4.9M30 216.67h4.9M30 303.33h4.9M30 390h4.9M30 476.67h4.9M30 563.33h4.9"/>
<path class="mt" d="M30 0h2.8M30 86.67h2.8M30 173.33h2.8M30 260h2.8M30 346.67h2.8M30 433.33h2.8M30 520h2.8M30 606.67h2.8"/>
<text class="tl" x="39.7" y="48.33">6</text><text class="tl" x="39.7" y="135">5</text><text class="tl" x="39.7" y="221.67">4</text><text class="tl" x="39.7" y="308.33">3</text><text class="tl" x="39.7" y="395">2</text><text class="tl" x="39.7" y="481.67">1</text><text class="tl" x="39.7" y="568.33">0</text>
</g>
<g id="cb4a" transform="translate(296.3,2038.3)">
<rect y="0" width="30" height="86.67" class="o"/><rect y="86.67" width="30" height="86.67" class="p"/><rect y="173.33" width="30" height="86.67" class="y"/><rect y="260" width="30" height="86.67" class="b"/><rect y="346.67" width="30" height="86.67" class="g"/><rect y="433.33" width="30" height="86.67" class="r"/><rect y="520" width="30" height="86.67" class="k"/>
<rect class="sp" width="30" height="606.67"/>
<path class="tk" d="M30 43.33h4.9M30 130h4.9M30 216.67h4.9M30 303.33h4.9M30 390h4.9M30 476.67h4.9M30 563.33h4.9"/>
<path class="mt" d="M30 0h2.8M30 86.67h2.8M30 173.33h2.8M30 260h2.8M30 346.67h2.8M30 433.33h2.8M30 520h2.8M30 606.67h2.8"/>
<text class="tl" x="39.7" y="48.33">6</text><text class="tl" x="39.7" y="135">5</text><text class="tl" x="39.7" y="221.67">4</text><text class="tl" x="39.7" y="308.33">3</text><text class="tl" x="39.7" y="395">2</text><text class="tl" x="39.7" y="481.67">1</text><text class="tl" x="39.7" y="568.33">0</text>
</g>
<g id="cb4b" transform="translate(906.3,2038.3)">
<rect y="0" width="30" height="86.67" class="o"/><rect y="86.67" width="30" height="86.67" class="p"/><rect y="173.33" width="30" height="86.67" class="y"/><rect y="260" width="30" height="86.67" class="b"/><rect y="346.67" width="30" height="86.67" class="g"/><rect y="433.33" width="30" height="86.67" class="r"/><rect y="520" width="30" height="86.67" class="k"/>
<rect class="sp" width="30" height="606.67"/>
<path class="tk" d="M30 43.33h4.9M30 130h4.9M30 216.67h4.9M30 303.33h4.9M30 390h4.9M30 476.67h4.9M30 563.33h4.9"/>
<path class="mt" d="M30 0h2.8M30 86.67h2.8M30 173.33h2.8M30 260h2.8M30 346.67h2.8M30 433.33h2.8M30 520h2.8M30 606.67h2.8"/>
<text class="tl" x="39.7" y="48.33">6</text><text class="tl" x="39.7" y="135">5</text><text class="tl" x="39.7" y="221.67">4</text><text class="tl" x="39.7" y="308.33">3</text><text class="tl" x="39.7" y="395">2</text><text class="tl" x="39.7" y="481.67">1</text><text class="tl" x="39.7" y="568.33">0</text>
</g>
</g>
</svg>
